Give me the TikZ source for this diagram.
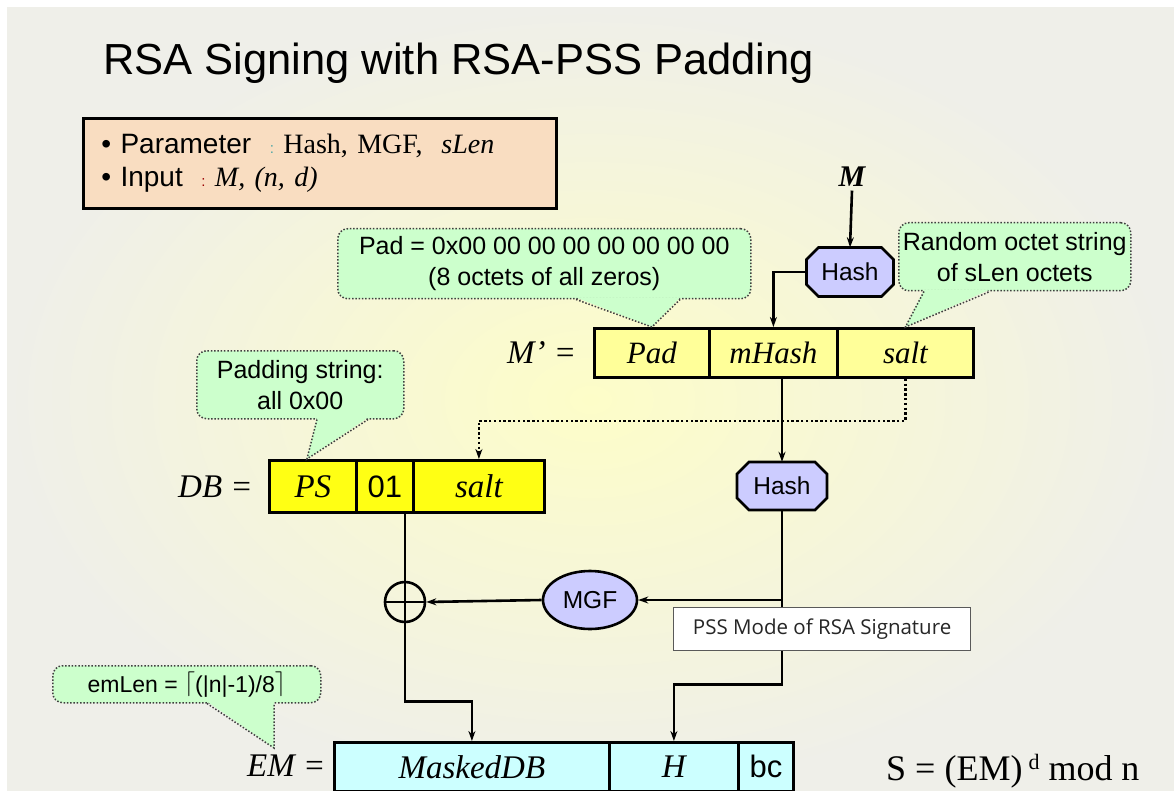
\documentclass[tikz,border=0pt]{standalone}
\usepackage{fontspec}
\usepackage{graphicx}
\setmainfont{Liberation Serif}
\setsansfont{Liberation Sans}
\newfontfamily\uifont{Open Sans}
\usetikzlibrary{shapes.geometric,shapes.misc,arrows.meta,calc}
\definecolor{peach}{RGB}{249,221,193}
\definecolor{callg}{RGB}{204,255,204}
\definecolor{lav}{RGB}{204,204,255}
\definecolor{ylight}{RGB}{255,255,153}
\definecolor{ybright}{RGB}{255,255,20}
\definecolor{cyanl}{RGB}{204,255,255}
\definecolor{bgin}{RGB}{253,253,200}
\definecolor{bgout}{RGB}{239,239,233}
% octagon outline around a centre: #1 centre, #2 half width, #3 half height, #4 chamfer
\newcommand{\drawocto}[4]{%
  \filldraw[octstyle] ($(#1)+(-#2+#4,-#3)$) -- ($(#1)+(#2-#4,-#3)$) -- ($(#1)+(#2,-#3+#4)$)
    -- ($(#1)+(#2,#3-#4)$) -- ($(#1)+(#2-#4,#3)$) -- ($(#1)+(-#2+#4,#3)$)
    -- ($(#1)+(-#2,#3-#4)$) -- ($(#1)+(-#2,-#3+#4)$) -- cycle;}
\begin{document}
\begin{tikzpicture}[x=1pt,y=-1pt,
  arr/.style={line width=2.6pt,-{Stealth[length=10pt,width=7pt]}},
  plain/.style={line width=2.6pt},
  dotarr/.style={line width=2.6pt,dash pattern=on 2.4pt off 2.4pt,-{Stealth[length=10pt,width=7pt]}},
  lbl/.style={anchor=base west,inner sep=0pt,font=\rmfamily\itshape\fontsize{33}{36}\selectfont},
  cellbase/.style={draw=black,line width=2.8pt,anchor=north west,inner sep=0pt},
  cellM/.style={cellbase,fill=ylight,minimum height=49,font=\rmfamily\itshape\fontsize{31}{34}\selectfont},
  cellD/.style={cellbase,fill=ybright,minimum height=52,font=\rmfamily\itshape\fontsize{33}{36}\selectfont},
  cellE/.style={cellbase,fill=cyanl,minimum height=49,font=\rmfamily\itshape\fontsize{33}{36}\selectfont},
  sanscell/.style={font=\sffamily\fontsize{31}{34}\selectfont},
  octstyle/.style={draw=black,line width=2.6pt,fill=lav},
  hashnode/.style={inner sep=0pt,font=\sffamily\fontsize{24.5}{26}\selectfont},
  callbox/.style={fill=callg,draw=black!75,line width=1.5pt,dash pattern=on 1.5pt off 1.8pt,
     rounded corners=10pt,anchor=north west,align=center,inner sep=0pt,
     font=\sffamily\fontsize{25}{31}\selectfont},
  calltail/.style={draw=black!75,line width=1.5pt,dash pattern=on 1.5pt off 1.8pt}
]
\useasboundingbox (0,0) rectangle (1174,791);
\fill[white] (0,0) rectangle (1174,791);
\shade[inner color=bgin,outer color=bgout] (7,8) rectangle (1174,791);

% title
\node[anchor=base west,font=\sffamily\fontsize{43.5}{50}\selectfont,inner sep=0pt] (title) at (103,75) {RSA Signing with RSA-PSS Padding};

% parameter box
\node[draw=black,line width=2.8pt,fill=peach,anchor=north west,minimum width=473,minimum height=90,
      inner xsep=18pt,text width=437pt,align=left,font=\sffamily\fontsize{28}{33}\selectfont] (params) at (82,117)
  {\textbullet\ Parameter\ \ {\color{teal!70}\fontsize{15}{15}\selectfont:}\ {\rmfamily Hash, MGF,\ \ \textit{sLen}}\\
   \textbullet\ Input\ \ {\color{red!60!black}\fontsize{15}{15}\selectfont:}\ {\rmfamily\itshape M, (n, d)}};

% M' row
\node[lbl] (mplbl) at (507,363) {M’ =};
\node[cellM,minimum width=115] (pad) at (593,327) {Pad};
\node[cellM,minimum width=128] (mhash) at (708,327) {mHash};
\node[cellM,minimum width=136] (salt) at (836,327) {salt};

% DB row
\node[lbl] (dblbl) at (178,497) {DB =};
\node[cellD,minimum width=87] (ps) at (268,459) {PS};
\node[cellD,minimum width=57,sanscell] (one) at (355,459) {01};
\node[cellD,minimum width=131] (dbsalt) at (412,459) {salt};

% EM row
\node[lbl] (emlbl) at (247,776) {EM =};
\node[cellE,minimum width=275] (masked) at (333,741) {MaskedDB};
\node[cellE,minimum width=129] (hcell) at (608,741) {H};
\node[cellE,minimum width=55,sanscell] (bc) at (737,741) {bc};

\node[anchor=base west,font=\rmfamily\fontsize{36}{40}\selectfont,inner sep=0pt] (sform) at (886,780)
  {S = (EM)\,\raisebox{0.3em}{\fontsize{22}{22}\selectfont d} mod n};

% hash / mgf / xor
\node[anchor=base,font=\rmfamily\bfseries\itshape\fontsize{30}{34}\selectfont] (mtop) at (852,187) {M};
\coordinate (h1c) at (850,272);
\drawocto{h1c}{43.5}{24.5}{12}
\node[hashnode,minimum width=87,minimum height=49] (hash1) at (h1c) {Hash};
\coordinate (h2c) at (782,486);
\drawocto{h2c}{45}{24}{12}
\node[hashnode,minimum width=90,minimum height=48] (hash2) at (h2c) {Hash};
\node[ellipse,draw=black,line width=2.6pt,fill=lav,minimum width=94,minimum height=58,inner sep=0pt,
      font=\sffamily\fontsize{24.5}{26}\selectfont] (mgf) at (590,600) {MGF};
\node[circle,draw=black,line width=2.6pt,minimum size=40,inner sep=0pt] (xor) at (405,602) {};
\draw[plain] (xor.north) -- (xor.south) (xor.west) -- (xor.east);

% connectors
\draw[arr] (mtop.south) -- (hash1.north);
\draw[arr] (hash1.west) -| (mhash.north);
\draw[arr] (hash2.north |- mhash.south) -- (hash2.north);
\draw[dotarr] (salt.south) -- ++(0,42) -| (dbsalt.north);
\draw[plain] (xor.north |- one.south) -- (xor.north);
\draw[arr] (xor.south) -- ++(0,78) -| (masked.north);
\draw[arr] (hash2.south) |- (mgf.east);
\draw[arr] (mgf.west) -- (xor.east);

% PSS note box
\node[draw=black!65,fill=white,line width=1.2pt,anchor=north west,minimum width=297,minimum height=43,inner sep=0pt,
      font=\uifont\fontsize{20.5}{22}\selectfont,text=black!85] (pss) at (673,607) {PSS Mode of RSA Signature};
\draw[plain] (hash2.south |- mgf.east) -- (hash2.south |- pss.north);
\draw[arr] (hash2.south |- pss.south) -- ++(0,33) -| (hcell.north);

% callouts
\node[callbox,minimum width=413,minimum height=70] (cpad) at (337,228) {Pad = 0x00 00 00 00 00 00 00 00\\(8 octets of all zeros)};
\fill[callg] ($(cpad.south west)+(239,-2)$) -- (pad.north) -- ($(cpad.south west)+(343,-2)$) -- cycle;
\draw[calltail] ($(cpad.south west)+(239,0)$) -- (pad.north) -- ($(cpad.south west)+(343,0)$);

\node[callbox,minimum width=232,minimum height=68] (crand) at (898,222) {Random octet string\\of sLen octets};
\fill[callg] ($(crand.south west)+(26,-2)$) -- (salt.north) -- ($(crand.south west)+(92,-2)$) -- cycle;
\draw[calltail] ($(crand.south west)+(26,0)$) -- (salt.north) -- ($(crand.south west)+(92,0)$);

\node[callbox,minimum width=207,minimum height=68] (cps) at (196,350) {Padding string:\\all 0x00};
\coordinate (pstip) at ($(ps.north)+(-6,0)$);
\fill[callg] ($(cps.south west)+(121,-2)$) -- (pstip) -- ($(cps.south west)+(172,-2)$) -- cycle;
\draw[calltail] ($(cps.south west)+(121,0)$) -- (pstip) -- ($(cps.south west)+(172,0)$);

\node[callbox,minimum width=268,minimum height=37,font=\sffamily\fontsize{23}{26}\selectfont] (cem) at (52,665)
  {emLen = \raisebox{2pt}{$\Big\lceil$}(|n|-1)/8\raisebox{2pt}{$\Big\rceil$}};
\coordinate (emtip) at (274,748);
\fill[callg] ($(cem.south west)+(155,-2)$) -- (emtip) -- ($(cem.south west)+(222,-2)$) -- cycle;
\draw[calltail] ($(cem.south west)+(155,0)$) -- (emtip) -- ($(cem.south west)+(222,0)$);
\end{tikzpicture}
\end{document}
